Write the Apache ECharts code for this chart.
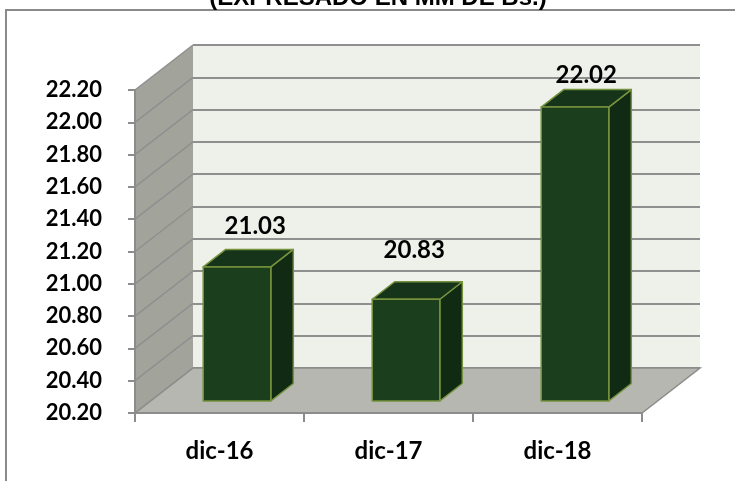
<!DOCTYPE html>
<html>
<head>
<meta charset="utf-8">
<script src="https://cdn.jsdelivr.net/npm/echarts@6/dist/echarts.min.js"></script>
<style>
  html, body { margin: 0; padding: 0; background: #fff; }
  #chart { width: 735px; height: 481px; }
</style>
</head>
<body>
<div id="chart"></div>
<script>
// datos del grafico
const categories = ['dic-16', 'dic-17', 'dic-18'];
const values = [21.03, 20.83, 22.02];
const yTicks = [20.20, 20.40, 20.60, 20.80, 21.00, 21.20, 21.40, 21.60, 21.80, 22.00, 22.20];
const titleText = '(EXPRESADO EN MM DE Bs.)';

const yMin = yTicks[0];
const yMax = yTicks[yTicks.length - 1];
const yStep = 0.2;

// profundidad 3D (px)
const DX = 58, DY = -45;        // pared
const BDX = 22.5, BDY = -17.5;  // barra
const BAR_SHIFT_X = 17.5, BAR_SHIFT_Y = -12;
// ajuste fino de las etiquetas (como en Excel)
const labelNudgeX = [7, -3, 0];
const labelLift = [23, 31, 14];

const myChart = echarts.init(document.getElementById('chart'));

const option = {
  animation: false,
  backgroundColor: '#fff',
  graphic: [
    {
      type: 'rect',
      shape: { x: 6, y: 10, width: 800, height: 600 },
      style: { fill: 'none', stroke: '#8a8a8a', lineWidth: 2 },
      z: 0
    },
    {
      type: 'text',
      x: 378, y: 10,
      style: {
        text: titleText,
        font: 'bold 24px "Liberation Sans", Arial, sans-serif',
        fill: '#000',
        align: 'center',
        verticalAlign: 'bottom'
      },
      z: 10
    }
  ],
  grid: [
    { left: 135, top: 90, width: 507, height: 323, outerBoundsMode: 'none' },
    { left: 193, top: 45, width: 507, height: 323, outerBoundsMode: 'none',
      show: true, backgroundColor: '#eef0ea', borderWidth: 0 }
  ],
  xAxis: [
    {
      type: 'category',
      gridIndex: 0,
      data: categories,
      axisLine: { show: true, lineStyle: { color: '#8c8c8c', width: 2 } },
      axisTick: { show: true, length: 9, lineStyle: { color: '#8c8c8c', width: 2 } },
      axisLabel: {
        color: '#000', fontSize: 24, fontWeight: 'bold',
        fontFamily: 'Lato', margin: 26
      },
      splitLine: { show: false },
      z: 5
    },
    {
      type: 'category',
      gridIndex: 1,
      data: categories,
      show: false
    }
  ],
  yAxis: [
    {
      type: 'value',
      gridIndex: 0,
      min: yMin, max: yMax, interval: yStep,
      axisLine: { show: true, lineStyle: { color: '#8c8c8c', width: 2 } },
      axisTick: { show: true, length: 7, lineStyle: { color: '#8c8c8c', width: 2 } },
      axisLabel: {
        color: '#000', fontSize: 22, fontWeight: 'bold',
        fontFamily: 'Lato', margin: 33,
        formatter: function (v) { return v.toFixed(2); }
      },
      splitLine: { show: false },
      z: 5
    },
    {
      type: 'value',
      gridIndex: 1,
      min: yMin, max: yMax, interval: yStep,
      axisLine: { show: false },
      axisTick: { show: false },
      axisLabel: { show: false },
      splitLine: { show: true, lineStyle: { color: '#8f8f8f', width: 2 } }
    }
  ],
  series: [
    {
      // pared lateral y piso
      type: 'custom',
      xAxisIndex: 0, yAxisIndex: 0,
      data: [[0, yMin]],
      silent: true,
      z: 1,
      renderItem: function (params, api) {
        const c0 = api.coord([0, yMin]);
        const band = api.size([1, 0])[0];
        const left = c0[0] - band / 2;
        const right = left + band * categories.length;
        const yb = c0[1];
        const yt = api.coord([0, yMax])[1];
        const children = [
          {
            type: 'polygon',
            shape: { points: [[left, yb], [left, yt], [left + DX, yt + DY], [left + DX, yb + DY]] },
            style: { fill: '#a2a49c' }
          },
          {
            type: 'polygon',
            shape: { points: [[left, yb], [right, yb], [right + DX, yb + DY], [left + DX, yb + DY]] },
            style: { fill: '#b5b7b0', stroke: '#8c8c8c', lineWidth: 1.5 }
          }
        ];
        yTicks.forEach(function (t) {
          const y = api.coord([0, t])[1];
          children.push({
            type: 'line',
            shape: { x1: left, y1: y, x2: left + DX, y2: y + DY },
            style: { stroke: '#8f8f8f', lineWidth: 1.5 }
          });
        });
        return { type: 'group', children: children };
      }
    },
    {
      // barras 3D
      type: 'custom',
      xAxisIndex: 0, yAxisIndex: 0,
      data: values.map(function (v, i) { return [i, v]; }),
      z: 10,
      renderItem: function (params, api) {
        const i = api.value(0);
        const v = api.value(1);
        const top = api.coord([i, v]);
        const base = api.coord([i, yMin]);
        const band = api.size([1, 0])[0];
        const w = band * 0.40;
        const cx = top[0] + BAR_SHIFT_X;
        const x0 = cx - w / 2, x1 = cx + w / 2;
        const yt = top[1] + BAR_SHIFT_Y;
        const yb = base[1] + BAR_SHIFT_Y;
        const edge = { stroke: '#76923c', lineWidth: 1.5, lineJoin: 'round' };
        return {
          type: 'group',
          children: [
            {
              type: 'polygon',
              shape: { points: [[x1, yt], [x1 + BDX, yt + BDY], [x1 + BDX, yb + BDY], [x1, yb]] },
              style: Object.assign({ fill: '#112a13' }, edge)
            },
            {
              type: 'polygon',
              shape: { points: [[x0, yt], [x1, yt], [x1 + BDX, yt + BDY], [x0 + BDX, yt + BDY]] },
              style: Object.assign({ fill: '#15341a' }, edge)
            },
            {
              type: 'rect',
              shape: { x: x0, y: yt, width: w, height: yb - yt },
              style: Object.assign({ fill: '#1b3f1d' }, edge)
            },
            {
              type: 'text',
              x: x0 + (w + BDX) / 2 + labelNudgeX[params.dataIndex],
              y: yt + BDY - labelLift[params.dataIndex],
              style: {
                text: v.toFixed(2),
                font: 'bold 24px Lato',
                fill: '#000',
                align: 'center',
                verticalAlign: 'middle'
              }
            }
          ]
        };
      }
    }
  ]
};

myChart.setOption(option);
</script>
</body>
</html>
